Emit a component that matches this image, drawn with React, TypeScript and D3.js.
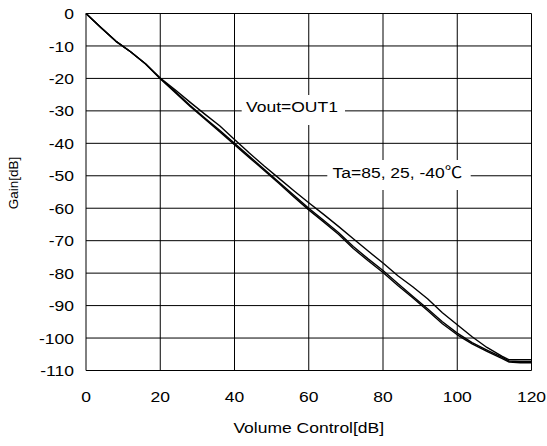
import React from "react";
import * as d3 from "d3";

const volume = [0, 4, 8, 12, 16, 20, 24, 28, 32, 36, 40, 44, 48, 52, 56, 60, 64, 68, 72, 76, 80, 84, 88, 92, 96, 100, 104, 108, 112, 114, 117, 120];
const gain85 = [0, -4.3, -8.5, -11.8, -15.5, -19.9, -23.5, -27.3, -31.0, -34.6, -38.8, -43.0, -47.0, -50.8, -54.6, -58.3, -61.9, -65.6, -69.4, -73.2, -76.9, -80.8, -84.2, -87.9, -92.2, -95.9, -99.6, -102.9, -105.6, -106.7, -106.7, -106.7];
const gain25 = [0, -4.3, -8.5, -11.8, -15.5, -20.0, -24.0, -28.3, -32.2, -36.0, -40.0, -44.0, -48.0, -52.0, -56.0, -60.0, -63.7, -67.5, -71.8, -75.6, -79.2, -83.2, -87.1, -91.0, -95.0, -98.5, -101.4, -103.7, -105.9, -107.1, -107.3, -107.3];
const gainM40 = [0, -4.3, -8.5, -11.8, -15.5, -20.1, -24.3, -28.6, -32.5, -36.4, -40.4, -44.4, -48.4, -52.4, -56.5, -60.5, -64.2, -68.0, -72.4, -76.2, -79.8, -83.8, -87.6, -91.5, -95.6, -99.0, -101.8, -104.1, -106.3, -107.4, -107.6, -107.6];
const series = [gain85, gain25, gainM40];

const xTicks = [0, 20, 40, 60, 80, 100, 120];
const yTicks = [0, -10, -20, -30, -40, -50, -60, -70, -80, -90, -100, -110];

const xTitle = "Volume Control[dB]";
const yTitle = "Gain[dB]";
const label1 = "Vout=OUT1";
const label2 = "Ta=85, 25, -40℃";

const W = 547;
const H = 446;
const FONT = "'Liberation Sans', Arial, 'Noto Sans CJK JP', sans-serif";
const FS = 15.5;
const SX = 1.13;

function T({ x, y, anchor = "start", size = FS, children }: any) {
  return (
    <g transform={`translate(${x},${y}) scale(${SX},1)`}>
      <text x={0} y={0} textAnchor={anchor} fontSize={size} fontFamily={FONT} fill="#000">
        {children}
      </text>
    </g>
  );
}

export default function App() {
  const x = d3.scaleLinear().domain([0, 120]).range([86, 531.5]);
  const y = d3.scaleLinear().domain([0, -110]).range([13.5, 370.5]);
  const line = d3
    .line<number>()
    .x((_, i) => x(volume[i]))
    .y((d) => y(d));

  return (
    <svg width={W} height={H} style={{ position: "absolute", left: 0, top: 0, background: "#fff" }}>
      <rect x={0} y={0} width={W} height={H} fill="#fff" />
      {yTicks.map((t) => (
        <line key={"h" + t} x1={x(0)} x2={x(120)} y1={y(t)} y2={y(t)} stroke="#000" strokeWidth={1} />
      ))}
      {xTicks.map((t) => (
        <line key={"v" + t} x1={x(t)} x2={x(t)} y1={y(0)} y2={y(-110)} stroke="#000" strokeWidth={1} />
      ))}
      <rect x={241.7} y={95} width={103.3} height={30} fill="#fff" />
      <rect x={327.3} y={160} width={143.4} height={30} fill="#fff" />
      {series.map((s, i) => (
        <path key={i} d={line(s) || ""} fill="none" stroke="#000" strokeWidth={1.4} strokeLinejoin="round" />
      ))}
      <T x={246} y={112}>{label1}</T>
      <T x={332.5} y={178}>{label2}</T>
      {yTicks.map((t) => (
        <T key={"yl" + t} x={74} y={y(t) + 0.358 * FS} anchor="end">
          {t}
        </T>
      ))}
      {xTicks.map((t) => (
        <T key={"xl" + t} x={x(t)} y={401.7} anchor="middle">
          {t}
        </T>
      ))}
      <T x={(x(0) + x(120)) / 2} y={433} anchor="middle">
        {xTitle}
      </T>
      <text
        transform={`translate(18,183) rotate(-90)`}
        textAnchor="middle"
        fontSize={13.5}
        fontFamily={FONT}
        fill="#000"
      >
        {yTitle}
      </text>
    </svg>
  );
}
